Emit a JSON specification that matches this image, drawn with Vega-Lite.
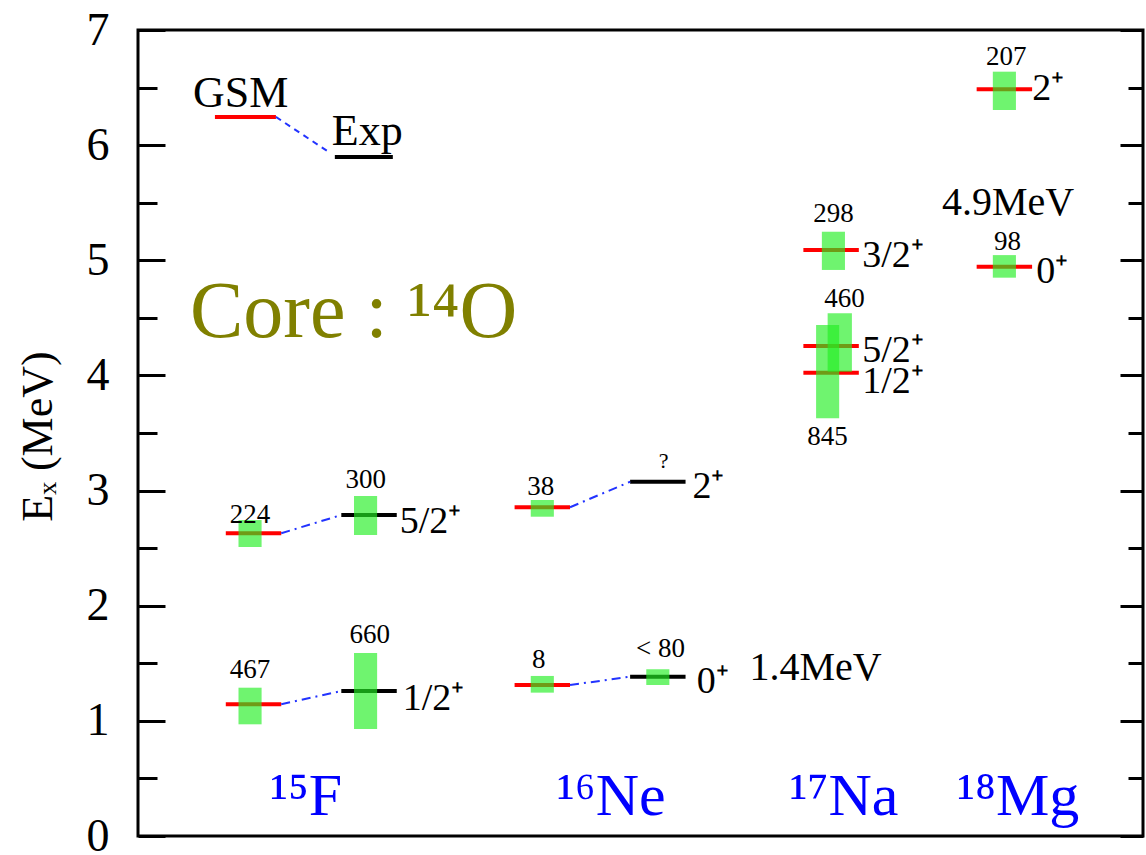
{
  "$schema": "https://vega.github.io/schema/vega-lite/v6.json",
  "width": 1005,
  "height": 806,
  "autosize": "none",
  "padding": {"left": 138, "top": 30, "right": 3, "bottom": 19},
  "background": "white",
  "config": {
    "view": {"stroke": "black", "strokeWidth": 3},
    "font": "Liberation Serif",
    "text": {"font": "Liberation Serif", "color": "black"},
    "axis": {"labelFont": "Liberation Serif", "titleFont": "Liberation Serif", "domain": false, "grid": false, "tickColor": "black", "tickWidth": 3, "labelColor": "black", "titleColor": "black"}
  },
  "datasets": {
    "levels": [
      {"nucleus": "15F", "state": "1/2+", "kind": "GSM", "x1": 0.76, "x2": 1.24, "e": 1.144},
      {"nucleus": "15F", "state": "5/2+", "kind": "GSM", "x1": 0.76, "x2": 1.24, "e": 2.629},
      {"nucleus": "15F", "state": "1/2+", "kind": "Exp", "x1": 1.76, "x2": 2.24, "e": 1.259},
      {"nucleus": "15F", "state": "5/2+", "kind": "Exp", "x1": 1.76, "x2": 2.24, "e": 2.788},
      {"nucleus": "16Ne", "state": "0+", "kind": "GSM", "x1": 3.26, "x2": 3.74, "e": 1.311},
      {"nucleus": "16Ne", "state": "2+", "kind": "GSM", "x1": 3.26, "x2": 3.74, "e": 2.855},
      {"nucleus": "16Ne", "state": "0+", "kind": "Exp", "x1": 4.26, "x2": 4.74, "e": 1.384},
      {"nucleus": "16Ne", "state": "2+", "kind": "Exp", "x1": 4.26, "x2": 4.74, "e": 3.077},
      {"nucleus": "17Na", "state": "1/2+", "kind": "GSM", "x1": 5.76, "x2": 6.24, "e": 4.024},
      {"nucleus": "17Na", "state": "5/2+", "kind": "GSM", "x1": 5.76, "x2": 6.24, "e": 4.256},
      {"nucleus": "17Na", "state": "3/2+", "kind": "GSM", "x1": 5.76, "x2": 6.24, "e": 5.089},
      {"nucleus": "18Mg", "state": "0+", "kind": "GSM", "x1": 7.26, "x2": 7.74, "e": 4.944},
      {"nucleus": "18Mg", "state": "2+", "kind": "GSM", "x1": 7.26, "x2": 7.74, "e": 6.485},
      {"nucleus": "legend", "state": "GSM", "kind": "GSM", "x1": 0.666, "x2": 1.194, "e": 6.245},
      {"nucleus": "legend", "state": "Exp", "kind": "Exp", "x1": 1.704, "x2": 2.206, "e": 5.897}
    ],
    "widths": [
      {"nucleus": "15F", "state": "1/2+", "kind": "GSM", "x1": 0.87, "x2": 1.07, "e1": 0.970, "e2": 1.288},
      {"nucleus": "15F", "state": "5/2+", "kind": "GSM", "x1": 0.87, "x2": 1.07, "e1": 2.510, "e2": 2.744},
      {"nucleus": "15F", "state": "1/2+", "kind": "Exp", "x1": 1.87, "x2": 2.07, "e1": 0.929, "e2": 1.589},
      {"nucleus": "15F", "state": "5/2+", "kind": "Exp", "x1": 1.87, "x2": 2.07, "e1": 2.614, "e2": 2.953},
      {"nucleus": "16Ne", "state": "0+", "kind": "GSM", "x1": 3.40, "x2": 3.60, "e1": 1.245, "e2": 1.390},
      {"nucleus": "16Ne", "state": "2+", "kind": "GSM", "x1": 3.40, "x2": 3.60, "e1": 2.773, "e2": 2.918},
      {"nucleus": "16Ne", "state": "0+", "kind": "Exp", "x1": 4.40, "x2": 4.60, "e1": 1.311, "e2": 1.448},
      {"nucleus": "17Na", "state": "3/2+", "kind": "GSM", "x1": 5.92, "x2": 6.12, "e1": 4.916, "e2": 5.248},
      {"nucleus": "17Na", "state": "1/2+", "kind": "GSM", "x1": 5.87, "x2": 6.07, "e1": 3.628, "e2": 4.438},
      {"nucleus": "17Na", "state": "5/2+", "kind": "GSM", "x1": 5.97, "x2": 6.18, "e1": 4.033, "e2": 4.540},
      {"nucleus": "18Mg", "state": "2+", "kind": "GSM", "x1": 7.40, "x2": 7.60, "e1": 6.305, "e2": 6.638},
      {"nucleus": "18Mg", "state": "0+", "kind": "GSM", "x1": 7.40, "x2": 7.60, "e1": 4.849, "e2": 5.045}
    ],
    "links": [
      {"nucleus": "15F", "state": "1/2+", "x1": 1.24, "x2": 1.76, "e1": 1.144, "e2": 1.259},
      {"nucleus": "15F", "state": "5/2+", "x1": 1.24, "x2": 1.76, "e1": 2.629, "e2": 2.788},
      {"nucleus": "16Ne", "state": "0+", "x1": 3.74, "x2": 4.26, "e1": 1.311, "e2": 1.384},
      {"nucleus": "16Ne", "state": "2+", "x1": 3.74, "x2": 4.26, "e1": 2.855, "e2": 3.077}
    ],
    "legendLink": [
      {"x1": 1.194, "x2": 1.66, "e1": 6.245, "e2": 5.935}
    ],
    "texts": [
      {"group": "width", "label": "224", "x": 0.969, "e": 2.718},
      {"group": "width", "label": "300", "x": 1.972, "e": 3.022},
      {"group": "width", "label": "467", "x": 0.969, "e": 1.372},
      {"group": "width", "label": "660", "x": 2.007, "e": 1.676},
      {"group": "width", "label": "38", "x": 3.486, "e": 2.962},
      {"group": "width", "label": "8", "x": 3.469, "e": 1.459},
      {"group": "width", "label": "< 80", "x": 4.524, "e": 1.555},
      {"group": "width", "label": "298", "x": 6.021, "e": 5.333},
      {"group": "width", "label": "460", "x": 6.116, "e": 4.591},
      {"group": "width", "label": "845", "x": 5.969, "e": 3.396},
      {"group": "width", "label": "207", "x": 7.517, "e": 6.696},
      {"group": "width", "label": "98", "x": 7.526, "e": 5.089},
      {"group": "unknown", "label": "?", "x": 4.55, "e": 3.196},
      {"group": "spin", "label": "5/2⁺", "x": 2.266, "e": 2.632},
      {"group": "spin", "label": "1/2⁺", "x": 2.292, "e": 1.094},
      {"group": "spin", "label": "2⁺", "x": 4.80, "e": 2.936},
      {"group": "spin", "label": "0⁺", "x": 4.836, "e": 1.242},
      {"group": "spin", "label": "3/2⁺", "x": 6.27, "e": 4.942},
      {"group": "spin", "label": "5/2⁺", "x": 6.27, "e": 4.117},
      {"group": "spin", "label": "1/2⁺", "x": 6.27, "e": 3.848},
      {"group": "spin", "label": "2⁺", "x": 7.742, "e": 6.392},
      {"group": "spin", "label": "0⁺", "x": 7.776, "e": 4.803},
      {"group": "gap", "label": "1.4MeV", "x": 5.294, "e": 1.355},
      {"group": "gap", "label": "4.9MeV", "x": 6.96, "e": 5.393},
      {"group": "legend", "label": "GSM", "x": 0.476, "e": 6.331},
      {"group": "legend", "label": "Exp", "x": 1.678, "e": 6.001},
      {"group": "core", "label": "Core : ¹⁴O", "x": 0.45, "e": 4.334},
      {"group": "nucleus", "label": "¹⁵F", "x": 1.142, "e": 0.182},
      {"group": "nucleus", "label": "¹⁶Ne", "x": 3.625, "e": 0.182},
      {"group": "nucleus", "label": "¹⁷Na", "x": 5.64, "e": 0.182},
      {"group": "nucleus", "label": "¹⁸Mg", "x": 7.09, "e": 0.182}
    ]
  },
  "layer": [
    {
      "data": {"name": "levels"},
      "mark": {"type": "rule", "strokeWidth": 4},
      "encoding": {
        "x": {"field": "x1", "type": "quantitative", "scale": {"domain": [0, 8.7], "nice": false, "zero": false}, "axis": null},
        "x2": {"field": "x2"},
        "y": {"field": "e", "type": "quantitative", "scale": {"domain": [0, 7], "nice": false, "zero": false},
              "axis": {"orient": "left", "values": [0.5, 1.5, 2.5, 3.5, 4.5, 5.5, 6.5], "tickSize": -19, "labels": false, "title": null}},
        "color": {"field": "kind", "type": "nominal", "scale": {"domain": ["GSM", "Exp"], "range": ["#ff0000", "#000000"]}, "legend": null}
      }
    },
    {
      "data": {"name": "links"},
      "mark": {"type": "rule", "strokeWidth": 2, "color": "#2233ff", "strokeDash": [9, 5, 2, 5]},
      "encoding": {
        "x": {"field": "x1", "type": "quantitative"},
        "x2": {"field": "x2"},
        "y": {"field": "e1", "type": "quantitative",
              "axis": {"orient": "right", "values": [0, 1, 2, 3, 4, 5, 6, 7], "tickSize": -23, "labels": false, "title": null}},
        "y2": {"field": "e2"}
      }
    },
    {
      "data": {"name": "legendLink"},
      "mark": {"type": "rule", "strokeWidth": 2, "color": "#2233ff", "strokeDash": [6, 5]},
      "encoding": {
        "x": {"field": "x1", "type": "quantitative"},
        "x2": {"field": "x2"},
        "y": {"field": "e1", "type": "quantitative", "axis": null},
        "y2": {"field": "e2"}
      }
    },
    {
      "data": {"name": "widths"},
      "mark": {"type": "rect", "fill": "#22ee22", "opacity": 0.65},
      "encoding": {
        "x": {"field": "x1", "type": "quantitative"},
        "x2": {"field": "x2"},
        "y": {"field": "e1", "type": "quantitative",
              "axis": {"orient": "left", "values": [0, 1, 2, 3, 4, 5, 6, 7], "tickSize": -27, "labelFont": "Liberation Serif", "labelFontSize": 46, "labelPadding": 56,
                       "title": "Eₓ (MeV)", "titleFont": "Liberation Serif", "titleFontSize": 44, "titleFontWeight": "normal", "titleAngle": -90,
                       "titleX": -100, "titleY": 406, "titleAlign": "center", "titleBaseline": "middle"}},
        "y2": {"field": "e2"}
      }
    },
    {
      "data": {"name": "texts"},
      "transform": [{"filter": "datum.group === 'width'"}],
      "mark": {"type": "text", "font": "Liberation Serif", "fontSize": 27, "align": "center", "baseline": "alphabetic"},
      "encoding": {
        "x": {"field": "x", "type": "quantitative"},
        "y": {"field": "e", "type": "quantitative",
              "axis": {"orient": "right", "values": [0.5, 1.5, 2.5, 3.5, 4.5, 5.5, 6.5], "tickSize": -15, "labels": false, "title": null}},
        "text": {"field": "label"}
      }
    },
    {
      "data": {"name": "texts"},
      "transform": [{"filter": "datum.group === 'unknown'"}],
      "mark": {"type": "text", "font": "Liberation Serif", "fontSize": 22, "align": "center", "baseline": "alphabetic"},
      "encoding": {
        "x": {"field": "x", "type": "quantitative"},
        "y": {"field": "e", "type": "quantitative", "axis": null},
        "text": {"field": "label"}
      }
    },
    {
      "data": {"name": "texts"},
      "transform": [{"filter": "datum.group === 'spin'"}],
      "mark": {"type": "text", "font": "Liberation Serif", "fontSize": 38, "align": "left", "baseline": "alphabetic"},
      "encoding": {
        "x": {"field": "x", "type": "quantitative"},
        "y": {"field": "e", "type": "quantitative", "axis": null},
        "text": {"field": "label"}
      }
    },
    {
      "data": {"name": "texts"},
      "transform": [{"filter": "datum.group === 'gap'"}],
      "mark": {"type": "text", "font": "Liberation Serif", "fontSize": 40, "align": "left", "baseline": "alphabetic"},
      "encoding": {
        "x": {"field": "x", "type": "quantitative"},
        "y": {"field": "e", "type": "quantitative", "axis": null},
        "text": {"field": "label"}
      }
    },
    {
      "data": {"name": "texts"},
      "transform": [{"filter": "datum.group === 'legend'"}],
      "mark": {"type": "text", "font": "Liberation Serif", "fontSize": 44, "align": "left", "baseline": "alphabetic"},
      "encoding": {
        "x": {"field": "x", "type": "quantitative"},
        "y": {"field": "e", "type": "quantitative", "axis": null},
        "text": {"field": "label"}
      }
    },
    {
      "data": {"name": "texts"},
      "transform": [{"filter": "datum.group === 'core'"}],
      "mark": {"type": "text", "font": "Liberation Serif", "fontSize": 80, "align": "left", "baseline": "alphabetic", "color": "#808000"},
      "encoding": {
        "x": {"field": "x", "type": "quantitative"},
        "y": {"field": "e", "type": "quantitative", "axis": null},
        "text": {"field": "label"}
      }
    },
    {
      "data": {"name": "texts"},
      "transform": [{"filter": "datum.group === 'nucleus'"}],
      "mark": {"type": "text", "font": "Liberation Serif", "fontSize": 60, "align": "left", "baseline": "alphabetic", "color": "#0000ff"},
      "encoding": {
        "x": {"field": "x", "type": "quantitative"},
        "y": {"field": "e", "type": "quantitative", "axis": null},
        "text": {"field": "label"}
      }
    }
  ],
  "resolve": {"axis": {"y": "independent"}}
}
